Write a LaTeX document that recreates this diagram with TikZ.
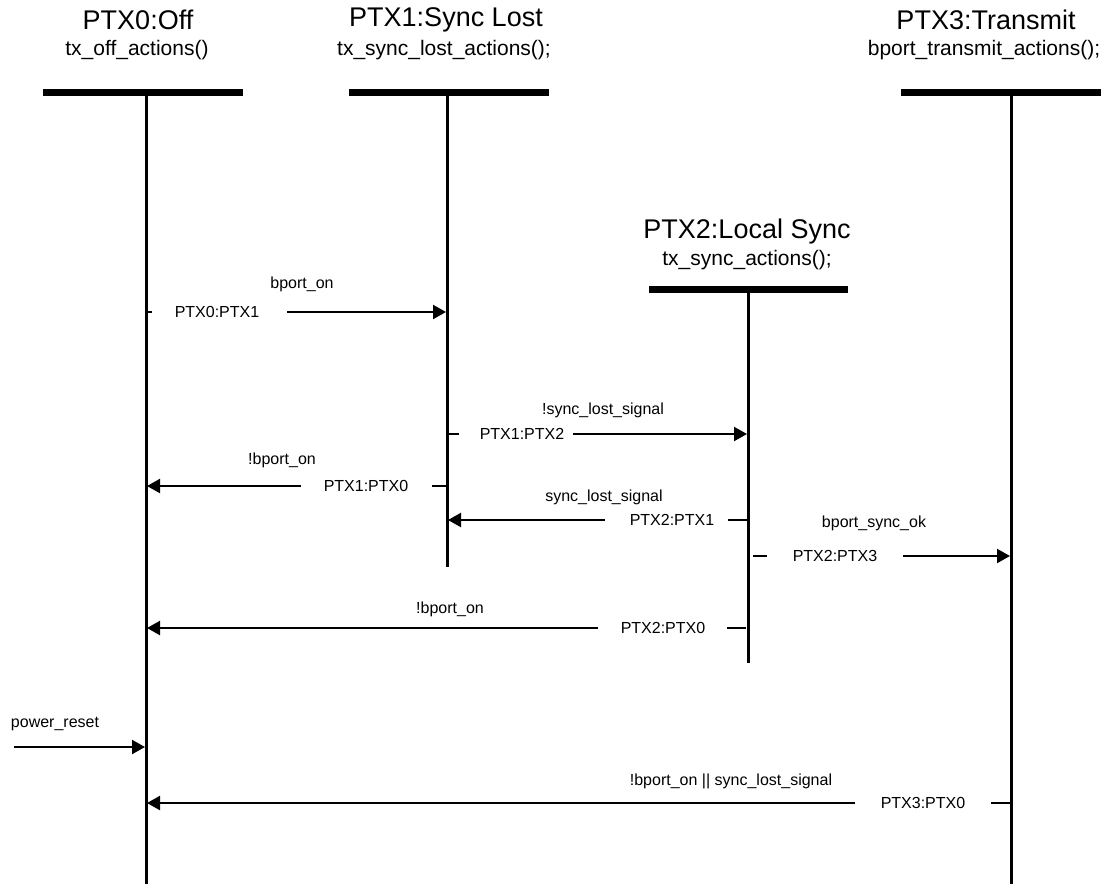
\documentclass[tikz,border=0pt]{standalone}
\usepackage{fontspec}
\setmainfont{Liberation Sans}
\usetikzlibrary{arrows.meta}
\begin{document}
\begin{tikzpicture}[x=1pt,y=-1pt,
  title/.style={font=\fontsize{27}{31}\selectfont, inner sep=0pt},
  sub/.style={font=\fontsize{21}{25}\selectfont, inner sep=0pt},
  lbl/.style={font=\fontsize{16}{19}\selectfont, inner sep=0pt},
  headbar/.style={line width=7pt},
  life/.style={line width=3pt},
  msg/.style={line width=2.2pt, -{Triangle[length=13pt,width=14pt]}},
  tickmark/.style={line width=2.2pt}]
\useasboundingbox (0,0) rectangle (1107,884);

% ---- lifelines ----
% PTX0
\node[title] (t0) at (138,20) {PTX0:Off};
\node[sub] (s0) at (137,50) {tx\_off\_actions()};
\coordinate (b0l) at (43,92); \coordinate (b0r) at (243,92);
\coordinate (l0top) at (146,92); \coordinate (l0bot) at (146,884);
\draw[headbar] (b0l) -- (b0r);
\draw[life] (l0top) -- (l0bot);
% PTX1
\node[title] (t1) at (446,20) {PTX1:Sync Lost};
\node[sub] (s1) at (444,50) {tx\_sync\_lost\_actions();};
\coordinate (b1l) at (349,92); \coordinate (b1r) at (549,92);
\coordinate (l1top) at (447,92); \coordinate (l1bot) at (447,567);
\draw[headbar] (b1l) -- (b1r);
\draw[life] (l1top) -- (l1bot);
% PTX2
\node[title] (t2) at (747,232) {PTX2:Local Sync};
\node[sub] (s2) at (747,260) {tx\_sync\_actions();};
\coordinate (b2l) at (649,289); \coordinate (b2r) at (848,289);
\coordinate (l2top) at (748,289); \coordinate (l2bot) at (748,663);
\draw[headbar] (b2l) -- (b2r);
\draw[life] (l2top) -- (l2bot);
% PTX3
\node[title] (t3) at (986,20) {PTX3:Transmit};
\node[sub] (s3) at (984,50) {bport\_transmit\_actions();};
\coordinate (b3l) at (901,92); \coordinate (b3r) at (1101,92);
\coordinate (l3top) at (1011,92); \coordinate (l3bot) at (1011,884);
\draw[headbar] (b3l) -- (b3r);
\draw[life] (l3top) -- (l3bot);

% ---- messages ----
% PTX0 -> PTX1
\node[lbl] (g01) at (302,284) {bport\_on};
\node[lbl] (n01) at (217,312) {PTX0:PTX1};
\coordinate (k01a) at (146,312); \coordinate (k01b) at (152,312);
\coordinate (a01s) at (287,312); \coordinate (a01e) at (446,312);
\draw[tickmark] (k01a) -- (k01b);
\draw[msg] (a01s) -- (a01e);

% PTX1 -> PTX2
\node[lbl] (g12) at (603,410) {!sync\_lost\_signal};
\node[lbl] (n12) at (522,434) {PTX1:PTX2};
\coordinate (k12a) at (447,434); \coordinate (k12b) at (459,434);
\coordinate (a12s) at (573,434); \coordinate (a12e) at (747,434);
\draw[tickmark] (k12a) -- (k12b);
\draw[msg] (a12s) -- (a12e);

% PTX1 -> PTX0
\node[lbl] (g10) at (282,460) {!bport\_on};
\node[lbl] (n10) at (366,486) {PTX1:PTX0};
\coordinate (k10a) at (432,486); \coordinate (k10b) at (447,486);
\coordinate (a10s) at (301,486); \coordinate (a10e) at (147,486);
\draw[tickmark] (k10a) -- (k10b);
\draw[msg] (a10s) -- (a10e);

% PTX2 -> PTX1
\node[lbl] (g21) at (604,497) {sync\_lost\_signal};
\node[lbl] (n21) at (672,520) {PTX2:PTX1};
\coordinate (k21a) at (728,520); \coordinate (k21b) at (748,520);
\coordinate (a21s) at (605,520); \coordinate (a21e) at (448,520);
\draw[tickmark] (k21a) -- (k21b);
\draw[msg] (a21s) -- (a21e);

% PTX2 -> PTX3
\node[lbl] (g23) at (874,523) {bport\_sync\_ok};
\node[lbl] (n23) at (835,556) {PTX2:PTX3};
\coordinate (k23a) at (753,556); \coordinate (k23b) at (767,556);
\coordinate (a23s) at (903,556); \coordinate (a23e) at (1010,556);
\draw[tickmark] (k23a) -- (k23b);
\draw[msg] (a23s) -- (a23e);

% PTX2 -> PTX0
\node[lbl] (g20) at (450,609) {!bport\_on};
\node[lbl] (n20) at (663,628) {PTX2:PTX0};
\coordinate (k20a) at (727,628); \coordinate (k20b) at (746,628);
\coordinate (a20s) at (598,628); \coordinate (a20e) at (147,628);
\draw[tickmark] (k20a) -- (k20b);
\draw[msg] (a20s) -- (a20e);

% power_reset -> PTX0
\node[lbl] (gpr) at (55,724) {power\_reset};
\coordinate (aprs) at (14,747); \coordinate (apre) at (145,747);
\draw[msg] (aprs) -- (apre);

% PTX3 -> PTX0
\node[lbl] (g30) at (731,781) {!bport\_on || sync\_lost\_signal};
\node[lbl] (n30) at (923,803) {PTX3:PTX0};
\coordinate (k30a) at (991,803); \coordinate (k30b) at (1010,803);
\coordinate (a30s) at (855,803); \coordinate (a30e) at (147,803);
\draw[tickmark] (k30a) -- (k30b);
\draw[msg] (a30s) -- (a30e);
\end{tikzpicture}
\end{document}
